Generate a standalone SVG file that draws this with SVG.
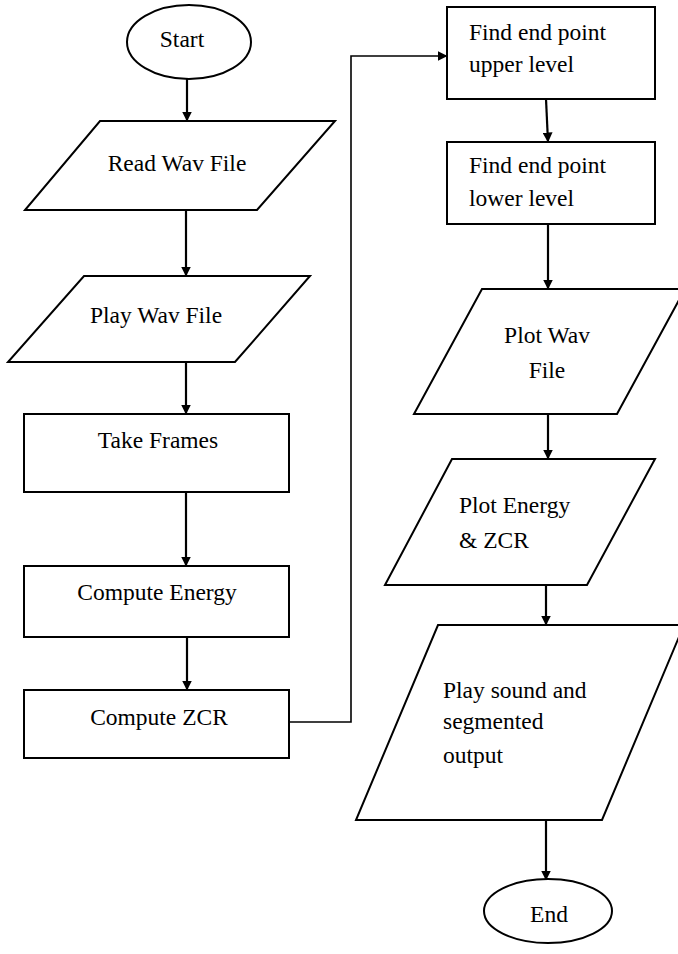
<svg xmlns="http://www.w3.org/2000/svg" width="678" height="954" viewBox="0 0 678 954">
<style>
.s{fill:#fff;stroke:#000;stroke-width:2}
.t{font-family:'Liberation Serif','Times New Roman',serif;font-size:23.5px;fill:#000}
.m{text-anchor:middle}
.c{fill:none;stroke:#000;stroke-width:2.2}
.c2{fill:none;stroke:#000;stroke-width:1.6}
</style>
<defs>
<marker id="ah" markerUnits="userSpaceOnUse" markerWidth="10" markerHeight="10" refX="9.5" refY="5" orient="auto">
<path d="M0,0 L10,5 L0,10 z" fill="#000"/>
</marker>
</defs>
<rect width="678" height="954" fill="#fff"/>
<g id="connectors">
<line class="c" x1="187" y1="79" x2="187" y2="121" marker-end="url(#ah)"/>
<line class="c" x1="186" y1="210" x2="186" y2="276" marker-end="url(#ah)"/>
<line class="c" x1="186" y1="362" x2="186" y2="414" marker-end="url(#ah)"/>
<line class="c" x1="186" y1="492" x2="186" y2="566" marker-end="url(#ah)"/>
<line class="c" x1="187" y1="637" x2="187" y2="690" marker-end="url(#ah)"/>
<polyline class="c2" points="289,722 351,722 351,56 447,56" marker-end="url(#ah)"/>
<line class="c" x1="546" y1="99" x2="548" y2="142" marker-end="url(#ah)"/>
<line class="c" x1="548" y1="224" x2="548" y2="289" marker-end="url(#ah)"/>
<line class="c" x1="548" y1="414" x2="548" y2="459" marker-end="url(#ah)"/>
<line class="c" x1="546" y1="585" x2="546" y2="625" marker-end="url(#ah)"/>
<line class="c" x1="546" y1="820" x2="546" y2="880" marker-end="url(#ah)"/>
</g>
<g id="start">
<ellipse class="s" cx="189" cy="42" rx="62" ry="37"/>
<text class="t m" x="182" y="47">Start</text>
</g>
<g id="read">
<polygon class="s" points="100,121 335,121 257,210 25,210"/>
<text class="t m" x="177" y="171">Read Wav File</text>
</g>
<g id="play">
<polygon class="s" points="84,276 310,276 235,362 8,362"/>
<text class="t m" x="156" y="323">Play Wav File</text>
</g>
<g id="frames">
<rect class="s" x="24" y="414" width="265" height="78"/>
<text class="t m" x="158" y="448">Take Frames</text>
</g>
<g id="energy">
<rect class="s" x="24" y="566" width="265" height="71"/>
<text class="t m" x="157" y="600">Compute Energy</text>
</g>
<g id="zcr">
<rect class="s" x="24" y="690" width="265" height="68"/>
<text class="t m" x="159" y="725">Compute ZCR</text>
</g>
<g id="upper">
<rect class="s" x="447" y="7" width="208" height="92"/>
<text class="t" x="469" y="40">Find end point</text>
<text class="t" x="469" y="72">upper level</text>
</g>
<g id="lower">
<rect class="s" x="447" y="142" width="208" height="82"/>
<text class="t" x="469" y="173">Find end point</text>
<text class="t" x="469" y="206">lower level</text>
</g>
<g id="plotwav">
<polygon class="s" points="482,289 685,289 617,414 414,414"/>
<text class="t m" x="547" y="343">Plot Wav</text>
<text class="t m" x="547" y="378">File</text>
</g>
<g id="plotenergy">
<polygon class="s" points="452,459 655,459 587,585 385,585"/>
<text class="t" x="459" y="513">Plot Energy</text>
<text class="t" x="459" y="548">&amp; ZCR</text>
</g>
<g id="playsound">
<polygon class="s" points="438,625 684,625 602,820 356,820"/>
<text class="t" x="443" y="698">Play sound and</text>
<text class="t" x="443" y="729">segmented</text>
<text class="t" x="443" y="763">output</text>
</g>
<g id="end">
<ellipse class="s" cx="548" cy="911" rx="64" ry="32"/>
<text class="t m" x="549" y="922">End</text>
</g>
</svg>
